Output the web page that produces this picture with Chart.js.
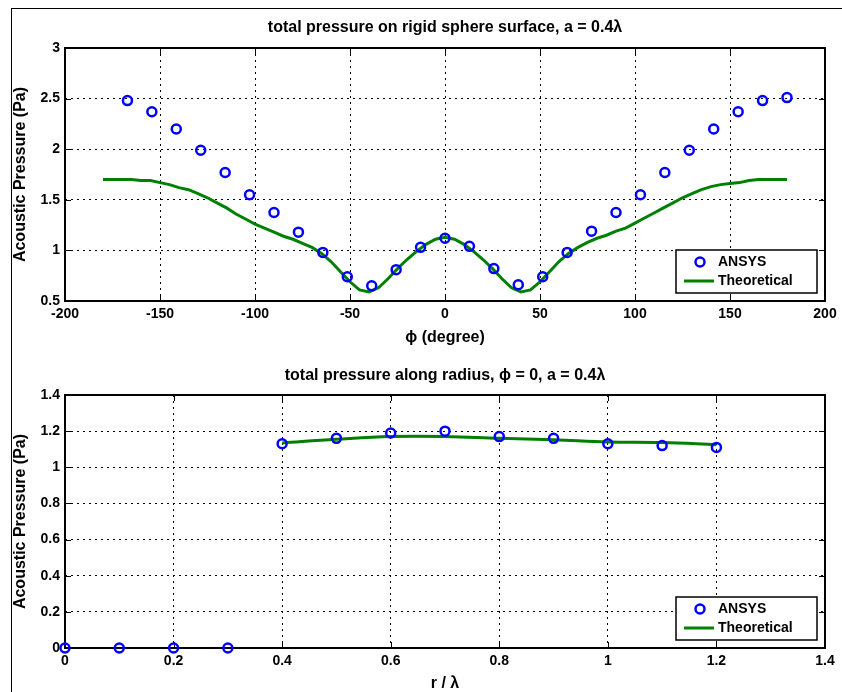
<!DOCTYPE html>
<html>
<head>
<meta charset="utf-8">
<script src="https://cdn.jsdelivr.net/npm/chart.js@4"></script>
<style>
  html, body { margin: 0; padding: 0; background: #fff; }
  #wrap { position: relative; width: 842px; height: 692px; overflow: hidden; }
  #frame { position: absolute; left: 11px; top: 8px; right: -2px; bottom: -2px;
           border-top: 1px solid #000; border-left: 1px solid #000; }
  canvas { position: absolute; left: 0; }
  #c1 { top: 0; }
  #c2 { top: 346px; }
</style>
</head>
<body>
<div id="wrap">
  <div id="frame"></div>
  <canvas id="c1" width="842" height="346"></canvas>
  <canvas id="c2" width="842" height="346"></canvas>
</div>
<script>
"use strict";

// Övre diagrammet: tryck på sfärens yta
const phiAnsys = [-167.14, -154.29, -141.43, -128.57, -115.71, -102.86, -90, -77.14, -64.29, -51.43,
    -38.57, -25.71, -12.86, 0, 12.86, 25.71, 38.57, 51.43, 64.29, 77.14, 90, 102.86, 115.71,
    128.57, 141.43, 154.29, 167.14, 180];
const pAnsys = [2.48, 2.37, 2.20, 1.99, 1.77, 1.55, 1.375, 1.18, 0.98, 0.74,
    0.65, 0.81, 1.03, 1.12, 1.04, 0.82, 0.66, 0.74, 0.98, 1.19, 1.375,
    1.55, 1.77, 1.99, 2.20, 2.37, 2.48, 2.51];

const phiTheory = [-180, -175, -170, -165, -160, -155, -150, -145, -140, -135, -130, -125, -120,
    -115, -110, -105, -100, -95, -90, -85, -80, -75, -70, -65, -60, -55, -50, -45, -40, -35,
    -30, -25, -20, -15, -10, -5, 0, 5, 10, 15, 20, 25, 30, 35, 40, 45, 50, 55, 60, 65, 70,
    75, 80, 85, 90, 95, 100, 105, 110, 115, 120, 125, 130, 135, 140, 145, 150, 155, 160,
    165, 170, 175, 180];
const pTheory = [1.70, 1.70, 1.70, 1.70, 1.69, 1.69, 1.67, 1.65, 1.62, 1.60, 1.56, 1.52, 1.47,
    1.42, 1.36, 1.31, 1.26, 1.22, 1.18, 1.14, 1.11, 1.07, 1.03, 0.97, 0.89, 0.79, 0.69, 0.61,
    0.59, 0.63, 0.72, 0.82, 0.91, 0.99, 1.06, 1.11, 1.13, 1.11, 1.06, 0.99, 0.91, 0.82, 0.72,
    0.63, 0.59, 0.61, 0.69, 0.79, 0.89, 0.97, 1.03, 1.08, 1.12, 1.15, 1.19, 1.22, 1.27, 1.32,
    1.37, 1.42, 1.47, 1.52, 1.56, 1.60, 1.63, 1.65, 1.66, 1.67, 1.69, 1.70, 1.70, 1.70, 1.70];

// Nedre diagrammet: tryck längs radien
const rAnsys = [0, 0.1, 0.2, 0.3, 0.4, 0.5, 0.6, 0.7, 0.8, 0.9, 1.0, 1.1, 1.2];
const pAnsysR = [0, 0, 0, 0, 1.13, 1.16, 1.19, 1.20, 1.17, 1.16, 1.13, 1.12, 1.11];
const rTheory = [0.4, 0.5, 0.6, 0.7, 0.8, 0.9, 1.0, 1.1, 1.2];
const pTheoryR = [1.135, 1.155, 1.17, 1.17, 1.16, 1.152, 1.14, 1.137, 1.125];

const seriesLabels = ["ANSYS", "Theoretical"];

const FONT = "'Liberation Sans', Arial, Helvetica, sans-serif";
Chart.defaults.font.family = FONT;
Chart.defaults.font.weight = "bold";
Chart.defaults.color = "#000";

// MATLAB-stil: 1 i stället för 1.0
const tickText = v => String(+Number(v).toFixed(2));

// Ram, tickmarkeringar inåt och legend i nedre högra hörnet
const matlabAxes = {
    id: "matlabAxes",
    beforeDatasetsDraw(chart) {
        const { ctx, chartArea: a, scales } = chart;
        ctx.save();
        ctx.strokeStyle = "#000";
        ctx.lineWidth = 1;
        ctx.beginPath();
        scales.x.ticks.forEach(t => {
            const px = Math.round(scales.x.getPixelForValue(t.value)) + 0.5;
            ctx.moveTo(px, a.bottom); ctx.lineTo(px, a.bottom - 6);
            ctx.moveTo(px, a.top); ctx.lineTo(px, a.top + 6);
        });
        scales.y.ticks.forEach(t => {
            const py = Math.round(scales.y.getPixelForValue(t.value)) + 0.5;
            ctx.moveTo(a.left, py); ctx.lineTo(a.left + 6, py);
            ctx.moveTo(a.right, py); ctx.lineTo(a.right - 6, py);
        });
        ctx.stroke();
        ctx.lineWidth = 2;
        ctx.strokeRect(a.left, a.top, a.right - a.left, a.bottom - a.top);
        ctx.restore();
    },
    afterDraw(chart) {
        const { ctx, chartArea: a } = chart;
        const w = 141, h = 43;
        const x0 = a.right - 8 - w, y0 = a.bottom - 8 - h;
        const ds0 = chart.data.datasets[0], ds1 = chart.data.datasets[1];
        ctx.save();
        ctx.fillStyle = "#fff";
        ctx.fillRect(x0, y0, w, h);
        ctx.strokeStyle = "#000";
        ctx.lineWidth = 1.5;
        ctx.strokeRect(x0, y0, w, h);
        // markör
        ctx.beginPath();
        ctx.arc(x0 + 24, y0 + 12, 4.5, 0, Math.PI * 2);
        ctx.strokeStyle = ds0.borderColor;
        ctx.lineWidth = ds0.borderWidth;
        ctx.stroke();
        // linje
        ctx.beginPath();
        ctx.moveTo(x0 + 8, y0 + 31);
        ctx.lineTo(x0 + 38, y0 + 31);
        ctx.strokeStyle = ds1.borderColor;
        ctx.lineWidth = ds1.borderWidth;
        ctx.stroke();
        ctx.fillStyle = "#000";
        ctx.font = "bold 14px " + FONT;
        ctx.textBaseline = "middle";
        ctx.fillText(ds0.label, x0 + 42, y0 + 12);
        ctx.fillText(ds1.label, x0 + 42, y0 + 31);
        ctx.restore();
    }
};

function makeChart(id, cfg) {
    return new Chart(document.getElementById(id), {
        type: "scatter",
        data: {
            datasets: [{
                label: seriesLabels[0],
                data: cfg.ax.map((x, i) => ({ x: x, y: cfg.ay[i] })),
                showLine: false,
                pointStyle: "circle",
                pointRadius: 4.5,
                pointBorderWidth: 2.5,
                borderColor: "#0000ff",
                borderWidth: 2.5,
                pointBackgroundColor: "rgba(0,0,0,0)",
                clip: false,
                order: 1
            }, {
                label: seriesLabels[1],
                data: cfg.tx.map((x, i) => ({ x: x, y: cfg.ty[i] })),
                showLine: true,
                pointRadius: 0,
                borderColor: "#008000",
                borderWidth: 3,
                tension: cfg.tension,
                order: 2
            }]
        },
        options: {
            responsive: false,
            animation: false,
            events: [],
            layout: { padding: { left: 0, right: 17, top: 0, bottom: 0 } },
            plugins: {
                legend: { display: false },
                tooltip: { enabled: false },
                title: {
                    display: true,
                    fullSize: false,
                    text: cfg.title,
                    font: { size: 16, weight: "bold" },
                    color: "#000",
                    padding: cfg.titlePad
                }
            },
            scales: {
                x: {
                    type: "linear",
                    min: cfg.xMin, max: cfg.xMax,
                    afterFit: s => { s.height = cfg.xHeight; },
                    ticks: { stepSize: cfg.xStep, padding: 5, font: { size: 14, weight: "bold" }, color: "#000", maxRotation: 0, callback: tickText },
                    grid: { color: "#000", lineWidth: 1, drawTicks: false },
                    border: { display: false, dash: [2, 4] },
                    title: { display: true, text: cfg.xTitle, font: { size: 16, weight: "bold", lineHeight: 1 }, color: "#000", padding: 0 }
                },
                y: {
                    type: "linear",
                    min: cfg.yMin, max: cfg.yMax,
                    afterFit: s => { s.width = 65; },
                    ticks: { stepSize: cfg.yStep, padding: 5, font: { size: 14, weight: "bold" }, color: "#000", callback: tickText },
                    grid: { color: "#000", lineWidth: 1, drawTicks: false },
                    border: { display: false, dash: [2, 4] },
                    title: { display: true, text: "Acoustic Pressure (Pa)", font: { size: 16, weight: "bold" }, color: "#000", padding: { top: 11 } }
                }
            }
        },
        plugins: [matlabAxes]
    });
}

makeChart("c1", {
    ax: phiAnsys, ay: pAnsys, tx: phiTheory, ty: pTheory, tension: 0,
    title: "total pressure on rigid sphere surface, a = 0.4λ",
    titlePad: { top: 18.4, bottom: 10.4 },
    xTitle: "ϕ (degree)", xMin: -200, xMax: 200, xStep: 50, xHeight: 45,
    yMin: 0.5, yMax: 3, yStep: 0.5
});

makeChart("c2", {
    ax: rAnsys, ay: pAnsysR, tx: rTheory, ty: pTheoryR, tension: 0.4,
    title: "total pressure along radius, ϕ = 0, a = 0.4λ",
    titlePad: { top: 20.4, bottom: 9.4 },
    xTitle: "r / λ", xMin: 0, xMax: 1.4, xStep: 0.2, xHeight: 44,
    yMin: 0, yMax: 1.4, yStep: 0.2
});
</script>
</body>
</html>
